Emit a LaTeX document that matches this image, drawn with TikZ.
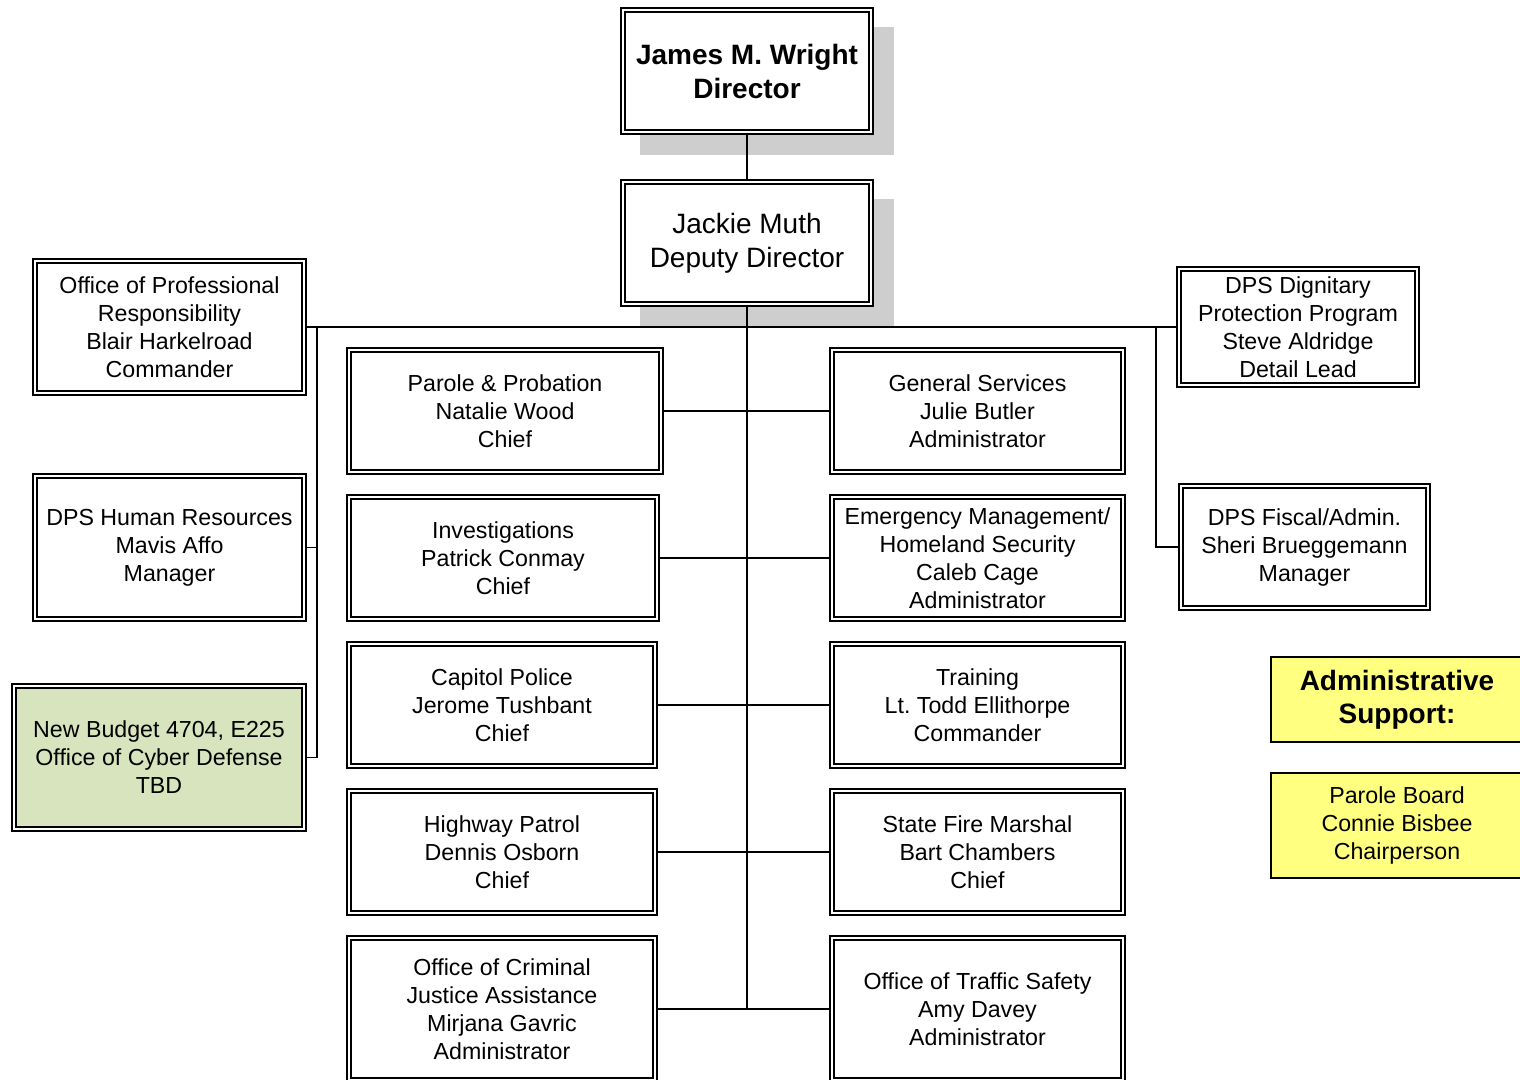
\documentclass[tikz,border=0pt]{standalone}
\usepackage{fontspec}
\setmainfont{Liberation Sans}
\usetikzlibrary{backgrounds}
\definecolor{shadowgray}{HTML}{CECECE}
\definecolor{cybergreen}{HTML}{D7E4BD}
\definecolor{adminyellow}{HTML}{FFFF80}
\tikzset{
  orgbox/.style={draw, double, double distance=1.3pt, line width=0.7pt, fill=white,
    inner sep=0pt, outer sep=1.35pt, align=center, font=\fontsize{11.6}{14}\selectfont},
  topbox/.style={orgbox, font=\fontsize{14}{17}\selectfont},
  greenbox/.style={orgbox, fill=cybergreen},
  adminbox/.style={draw, line width=0.65pt, fill=adminyellow, inner sep=0pt, outer sep=0pt,
    align=center, font=\fontsize{11.6}{14}\selectfont},
  conn/.style={line width=0.6pt},
}
\newcommand\orgnode[7]{%
  \node[#1, minimum width={(#5-#3-4)*0.5pt}, minimum height={(#6-#4-4)*0.5pt}]
    (#2) at ({(#3+#5)/2},{(#4+#6)/2}) {#7};}
\frenchspacing
\begin{document}
\begin{tikzpicture}[x=0.5pt, y=-0.5pt]
\useasboundingbox (0,0) rectangle (1520,1080);
% top
\orgnode{topbox}{dir}{621}{8}{873}{134}{\bfseries James M. Wright\\\bfseries Director}
\orgnode{topbox}{dep}{621}{180}{873}{306}{Jackie Muth\\Deputy Director}
% left side
\orgnode{orgbox}{opr}{33}{259}{306}{395}{Office of Professional\\Responsibility\\Blair Harkelroad\\Commander}
\orgnode{orgbox}{hr}{33}{474}{306}{621}{DPS Human Resources\\Mavis Affo\\Manager}
\orgnode{greenbox}{cyb}{12}{684}{306}{831}{New Budget 4704, E225\\Office of Cyber Defense\\TBD}
% right side
\orgnode{orgbox}{dig}{1177}{267}{1419}{387}{DPS Dignitary\\Protection Program\\Steve Aldridge\\Detail Lead}
\orgnode{orgbox}{fis}{1179}{484}{1430}{610}{DPS Fiscal/Admin.\\Sheri Brueggemann\\Manager}
% middle left column
\orgnode{orgbox}{pp}{347}{348}{663}{474}{Parole \& Probation\\Natalie Wood\\Chief}
\orgnode{orgbox}{inv}{347}{495}{659}{621}{Investigations\\Patrick Conmay\\Chief}
\orgnode{orgbox}{cap}{347}{642}{657}{768}{Capitol Police\\Jerome Tushbant\\Chief}
\orgnode{orgbox}{hp}{347}{789}{657}{915}{Highway Patrol\\Dennis Osborn\\Chief}
\orgnode{orgbox}{ocja}{347}{936}{657}{1082}{Office of Criminal\\Justice Assistance\\Mirjana Gavric\\Administrator}
% middle right column
\orgnode{orgbox}{gs}{830}{348}{1125}{474}{General Services\\Julie Butler\\Administrator}
\orgnode{orgbox}{em}{830}{495}{1125}{621}{Emergency Management/\\Homeland Security\\Caleb Cage\\Administrator}
\orgnode{orgbox}{tr}{830}{642}{1125}{768}{Training\\Lt. Todd Ellithorpe\\Commander}
\orgnode{orgbox}{sfm}{830}{789}{1125}{915}{State Fire Marshal\\Bart Chambers\\Chief}
\orgnode{orgbox}{ots}{830}{936}{1125}{1082}{Office of Traffic Safety\\Amy Davey\\Administrator}
% administrative support
\node[adminbox, minimum width=126pt, minimum height=42.5pt, font=\fontsize{14}{16.5}\selectfont\bfseries]
  (adm) at (1397,699.5) {Administrative\\Support:};
\node[adminbox, minimum width=126pt, minimum height=52.5pt]
  (pb) at (1397,825.5) {Parole Board\\Connie Bisbee\\Chairperson};
% shadows and background
\begin{scope}[on background layer]
  \fill[white] (0,0) rectangle (1520,1080);
  \fill[shadowgray] ([shift={(20,20)}]dir.south west) rectangle ([shift={(20,20)}]dir.north east);
  \fill[shadowgray] ([shift={(20,20)}]dep.south west) rectangle ([shift={(20,20)}]dep.north east);
\end{scope}
% connectors
\draw[conn] (dir) -- (dep);
\draw[conn] (dep.south) -- (dep.south |- ocja.east);
\draw[conn] (opr.east) -- (dig.west);
\coordinate (lv) at (317,327);
\coordinate (rv) at (1156,327);
\draw[conn] (lv) |- (hr.east);
\draw[conn] (lv) |- (cyb.east);
\draw[conn] (rv) |- (fis.west);
\draw[conn] (pp.east) -- (gs.west);
\draw[conn] (inv.east) -- (em.west);
\draw[conn] (cap.east) -- (tr.west);
\draw[conn] (hp.east) -- (sfm.west);
\draw[conn] (ocja.east) -- (ots.west);
\end{tikzpicture}
\end{document}
